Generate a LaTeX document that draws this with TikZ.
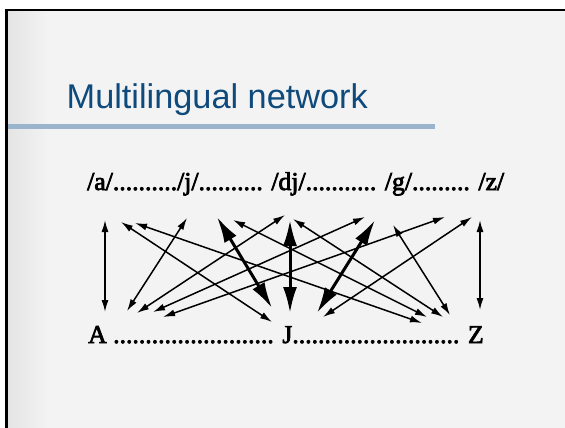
\documentclass[tikz,border=0pt]{standalone}
\usepackage{fontspec}
\setmainfont{Liberation Serif}
\newfontfamily\rowfont{Liberation Serif}[FakeBold=3]
\newfontfamily\titlefont{Liberation Sans}
\usetikzlibrary{arrows.meta}
\definecolor{titleblue}{HTML}{0F4A7C}
\definecolor{rulecol}{HTML}{9BB4CD}
\definecolor{bgcol}{HTML}{F3F3F3}
\definecolor{bandcol}{HTML}{E4E4E4}
\tikzset{
  thinarr/.style={line width=1.5pt, {Latex[length=12pt,width=7pt]}-{Latex[length=12pt,width=7pt]}},
  thickarr/.style={line width=3pt, {Latex[length=26pt,width=14pt]}-{Latex[length=26pt,width=14pt]}},
  rowtext/.style={font=\rowfont\fontsize{25.7}{28}\selectfont, inner sep=0pt, anchor=base west},
}
\begin{document}
\begin{tikzpicture}[x=1pt,y=-1pt]
\useasboundingbox (0,0) rectangle (565,428);
\fill[white] (0,0) rectangle (565,428);
\fill[bgcol] (7,10) rectangle (565,428);
\shade[left color=bandcol, right color=bgcol] (7,10) rectangle (48,428);
\fill[black] (5,9) rectangle (565,11.5);
\fill[black] (5,9) rectangle (8,428);
% title
\node[font=\titlefont\fontsize{34.3}{38}\selectfont, text=titleblue, inner sep=0pt, anchor=base west] (title) at (66.5,108) {Multilingual network};
\fill[rulecol] (8,124) rectangle (435,129);
% rows
\node[rowtext] (toprow) at (87,190) {/a/........../j/.......... /dj/........... /g/......... /z/};
\node[rowtext] (botrow) at (88,343) {A ......................... J.......................... Z};
% endpoints
\coordinate (a1) at (105,220); \coordinate (a2) at (105,312);
\coordinate (z1) at (480,220); \coordinate (z2) at (480,310);
\coordinate (b1) at (121,222); \coordinate (b2) at (272,322);
\coordinate (c1) at (135,223); \coordinate (c2) at (422,323);
\coordinate (d1) at (187,218); \coordinate (d2) at (127,311);
\coordinate (e1) at (285,215); \coordinate (e2) at (137,313);
\coordinate (f1) at (365,217); \coordinate (f2) at (153,312);
\coordinate (g1) at (445,217); \coordinate (g2) at (163,317);
\coordinate (h1) at (233,220); \coordinate (h2) at (427,317);
\coordinate (i1) at (293,219); \coordinate (i2) at (443,317);
\coordinate (k1) at (393,225); \coordinate (k2) at (450,315);
\coordinate (m1) at (472,217); \coordinate (m2) at (323,317);
\coordinate (t1) at (217,217); \coordinate (t2) at (272,308);
\coordinate (u1) at (290,220); \coordinate (u2) at (290,313);
\coordinate (v1) at (375,220); \coordinate (v2) at (317,313);
% thin arrows
\foreach \p in {a,z,b,c,d,e,f,g,h,i,k,m}{
  \draw[thinarr] (\p1) -- (\p2);
}
% thick arrows
\foreach \p in {t,u,v}{
  \draw[thickarr] (\p1) -- (\p2);
}
\end{tikzpicture}
\end{document}
